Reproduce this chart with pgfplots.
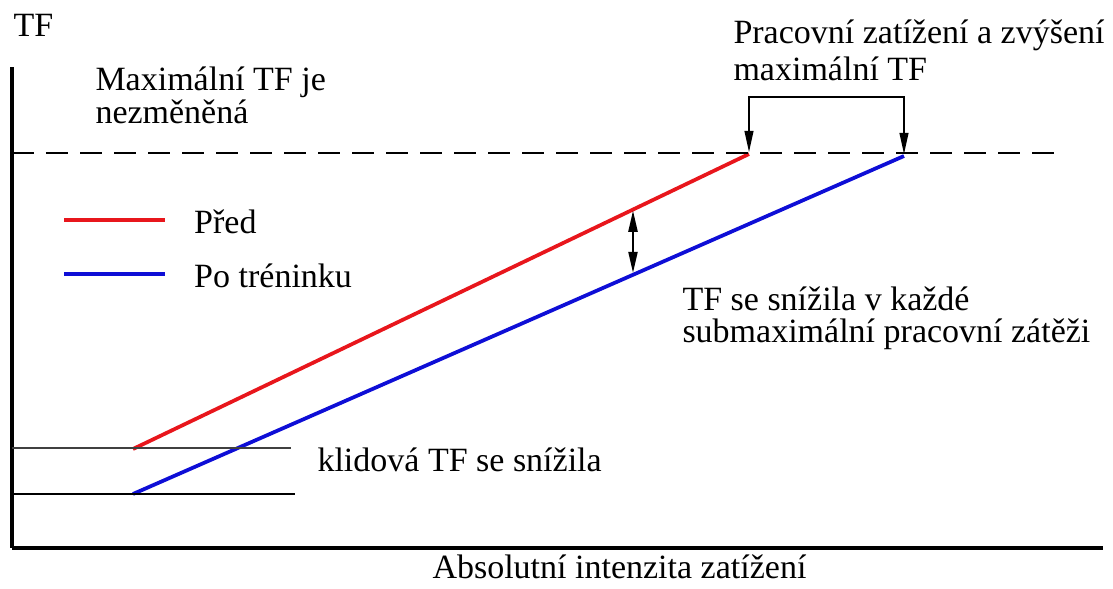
\documentclass[border=0pt]{standalone}
\usepackage{fontspec}
\setmainfont{Liberation Serif}
\usepackage{pgfplots}
\pgfplotsset{compat=1.18}
\usetikzlibrary{arrows.meta}

\definecolor{predred}{RGB}{232,22,28}
\definecolor{poblue}{RGB}{14,14,214}

% axis coordinates are the pixel positions of the reference, y counted upwards
\begin{document}
\fontsize{13.6pt}{16pt}\selectfont
\begin{tikzpicture}
\begin{axis}[
    scale only axis,
    width=436.4pt, height=192.4pt,
    xmin=12, xmax=1103,
    ymin=41, ymax=522,
    axis lines=left,
    axis line style={-, line width=1.6pt},
    xtick=\empty, ytick=\empty,
    clip=false,
    xlabel={Absolutní intenzita zatížení},
    ylabel={TF},
    every axis x label/.style={at={(axis cs:432,10)}, anchor=base west, inner sep=0pt},
    every axis y label/.style={at={(axis cs:13,553)}, anchor=base west, inner sep=0pt},
    legend style={draw=none, fill=none, inner sep=0pt,
        at={(axis cs:62,381)}, anchor=north west,
        nodes={inner sep=0pt, text height=10pt, text depth=3pt},
        row sep=8.6pt, column sep=10.8pt},
    legend cell align=left,
    legend image code/.code={\draw[#1] (0pt,2pt) -- (40.4pt,2pt);},
]
% page extent
\path (axis cs:0,0) rectangle (axis cs:1113,589);

\addplot[predred, line width=1.5pt] coordinates {(133,140) (749,435)};
\addplot[poblue, line width=1.5pt] coordinates {(133,95) (904,433)};
\legend{Před, Po tréninku}

% maximal heart rate
\addplot[black, line width=0.9pt, dash pattern=on 8.8pt off 4.8pt, forget plot]
    coordinates {(12,436) (1055,436)};
% resting levels
\addplot[black!75, line width=0.5pt, forget plot] coordinates {(12,141) (291,141)};
\addplot[black, line width=0.5pt, forget plot] coordinates {(12,95) (295,95)};

% arrows
\addplot[black, line width=0.9pt, {Triangle[length=8.5pt,width=3.6pt]}-{Triangle[length=8.5pt,width=3.6pt]}, forget plot]
    coordinates {(633,378.5) (633,316)};
\addplot[black, line width=0.5pt, {Triangle[length=8.5pt,width=3.6pt]}-{Triangle[length=8.5pt,width=3.6pt]}, forget plot]
    coordinates {(749,437) (749,492) (904,492) (904,435)};

\begin{scope}[every node/.style={anchor=base west, inner sep=0pt}]
\node at (axis cs:95,499) {Maximální TF je};
\node at (axis cs:95,466) {nezměněná};
\node at (axis cs:733,546) {Pracovní zatížení a zvýšení};
\node at (axis cs:733,509) {maximální TF};
\node at (axis cs:682,279) {TF se snížila v každé};
\node at (axis cs:682,247) {submaximální pracovní zátěži};
\node at (axis cs:317,117) {klidová TF se snížila};
\end{scope}
\end{axis}
\end{tikzpicture}
\end{document}
